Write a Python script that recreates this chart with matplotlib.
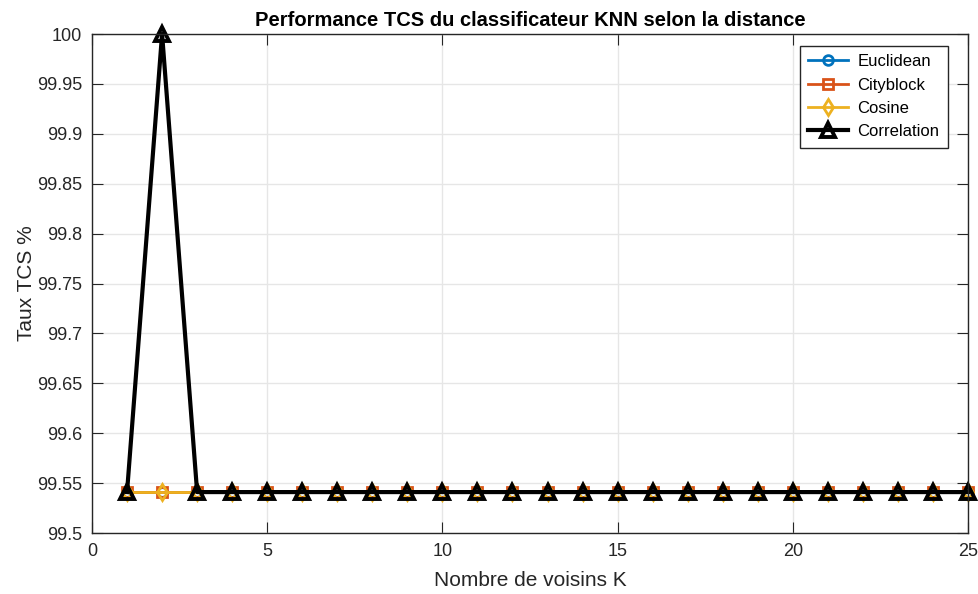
import numpy as np
import matplotlib
matplotlib.use("Agg")
import matplotlib.pyplot as plt

plt.rcParams['font.family'] = ['Liberation Sans', 'DejaVu Sans']

# KNN accuracy (TCS %) for K = 1..25 with each distance metric
k_values = list(range(1, 26))
tcs_euclidean = [99.541] * 25
tcs_cityblock = [99.541] * 25
tcs_cosine = [99.541] * 25
tcs_correlation = [99.541, 100.0] + [99.541] * 23

fig = plt.figure(figsize=(9.79, 5.94), dpi=100)
ax = fig.add_axes([92 / 979, 1 - 533 / 594, (968 - 92) / 979, (533 - 34) / 594])

ax.plot(k_values, tcs_euclidean, '-o', color='#0072BD', lw=2, ms=7,
        mfc='none', mew=2, label='Euclidean', clip_on=False)
ax.plot(k_values, tcs_cityblock, '-s', color='#D95319', lw=2, ms=7,
        mfc='none', mew=2, label='Cityblock', clip_on=False)
ax.plot(k_values, tcs_cosine, '-d', color='#EDB120', lw=2, ms=8,
        mfc='none', mew=2, label='Cosine', clip_on=False)
ax.plot(k_values, tcs_correlation, '-^', color='black', lw=3, ms=10,
        mfc='none', mew=2.8, label='Correlation', clip_on=False)

ax.set_xlim(0, 25)
ax.set_ylim(99.5, 100)
ax.set_xticks(np.arange(0, 26, 5))
ax.set_yticks(np.arange(99.5, 100.001, 0.05))
ax.set_yticklabels(['99.5', '99.55', '99.6', '99.65', '99.7', '99.75',
                    '99.8', '99.85', '99.9', '99.95', '100'])

ax.grid(True, color='#e6e6e6', lw=1)
ax.set_axisbelow(True)
ax.tick_params(direction='in', labelsize=13, colors='#262626', length=8,
               top=True, right=True, pad=7)
for s in ax.spines.values():
    s.set_color('#262626')
    s.set_linewidth(1)

ax.set_xlabel('Nombre de voisins K', fontsize=15, color='#262626', labelpad=8)
ax.set_ylabel('Taux TCS %', fontsize=15, color='#262626', labelpad=1)
ax.set_title('Performance TCS du classificateur KNN selon la distance',
             fontsize=14.5, fontweight='bold', color='black', pad=6)

leg = ax.legend(loc='upper right', fontsize=12, fancybox=False, framealpha=1,
                edgecolor='#262626', handlelength=2.4, borderpad=0.5,
                labelspacing=0.5, handletextpad=0.55,
                bbox_to_anchor=(0.977, 0.976), borderaxespad=0)
leg.get_frame().set_linewidth(1)

fig.savefig('out.png', dpi=100)
